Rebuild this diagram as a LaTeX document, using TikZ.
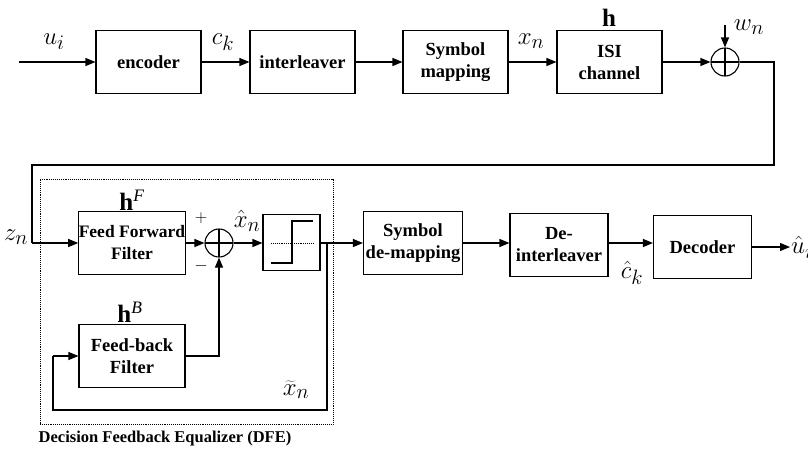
\documentclass[tikz,border=0pt]{standalone}
\usepackage{fontspec}
\setmainfont{Liberation Serif}
\usetikzlibrary{arrows.meta,calc}
\begin{document}
\begin{tikzpicture}[x=1pt,y=-1pt,
  blk/.style={draw,line width=1.1pt,minimum width=105pt,minimum height=63pt,inner sep=0pt,align=center,font=\fontsize{18.5}{22}\selectfont\bfseries},
  sumn/.style={draw,circle,line width=1.1pt,minimum size=28pt,inner sep=0pt,path picture={\draw[line width=1.1pt] (path picture bounding box.north) -- (path picture bounding box.south) (path picture bounding box.west) -- (path picture bounding box.east);}},
  arr/.style={line width=1.1pt,-{Triangle[length=10pt,width=8pt]}},
  ln/.style={line width=1.1pt},
  lab/.style={font=\fontsize{29}{33}\selectfont, inner sep=0pt},
  hlab/.style={font=\fontsize{25}{30}\selectfont\bfseries, inner sep=0pt},
]
\useasboundingbox (0,0) rectangle (808,453);
% top row
\coordinate (in) at (19,62);
\node[blk] (enc) at (148.5,62) {encoder};
\node[blk] (intl) at (302.5,62) {interleaver};
\node[blk] (sym) at (455.5,62) {Symbol\\mapping};
\node[blk] (isi) at (609.5,62) {ISI\\channel};
\node[sumn] (sum1) at (725,62) {};
\coordinate (w) at (725,25);
\coordinate (c1) at (774,62);
\coordinate (c2) at (774,165);
\coordinate (c3) at (32,165);
\coordinate (c4) at (32,243);
\draw[arr] (in) -- (enc);
\draw[arr] (enc) -- (intl);
\draw[arr] (intl) -- (sym);
\draw[arr] (sym) -- (isi);
\draw[arr] (isi) -- (sum1);
\draw[arr] (w) -- (sum1);
\draw[ln] (sum1.east) -- (c1) -- (c2) -- (c3) -- (c4);
\node[lab] (ui) at (54,42) {$u_i$};
\node[lab] (ck) at (223,42) {$c_k$};
\node[lab] (xn) at (531,41) {$x_n$};
\node[hlab] (h) at (609,18) {h};
\node[lab] (wn) at (749,27) {$w_n$};
% DFE
\node[draw,densely dotted,line width=0.9pt,minimum width=293pt,minimum height=245pt,inner sep=0pt] (dfe) at (186.5,301.5) {};
\node[font=\fontsize{16.5}{20}\selectfont\bfseries,anchor=north,inner sep=0pt] (cap) at (165,431) {Decision Feedback Equalizer (DFE)};
\node[blk,minimum width=106pt,font=\fontsize{17.5}{22}\selectfont\bfseries] (fff) at (132,243) {Feed Forward\\Filter};
\node[blk,minimum width=106pt] (fbf) at (132,356) {Feed-back\\Filter};
\node[sumn] (sum2) at (219,243) {};
\node[draw,line width=1.1pt,minimum width=57pt,minimum height=56pt,inner sep=0pt] (dec) at (291.5,242.5) {};
\draw[ln] (271,263) -- (292,263) -- (292,221) -- (313,221);
\draw[densely dotted,line width=0.9pt] (271,243) -- (313,243);
\draw[arr] (c4) -- (fff);
\draw[arr] (fff) -- (sum2);
\draw[arr] (sum2) -- (dec.west |- sum2);
\draw[arr] (fbf.east) -| (sum2.south);
\coordinate (br) at (327,243);
\coordinate (fb1) at (327,410);
\coordinate (fb2) at (53,410);
\coordinate (fb3) at (53,356);
\draw[ln] (br) -- (fb1) -- (fb2) -- (fb3);
\draw[arr] (fb3) -- (fbf.west);
\node[lab] (zn) at (16,237) {$z_n$};
\node[hlab] (hF) at (132,200) {h$^{\mathit{F}}$};
\node[hlab] (hB) at (130,312) {h$^{\mathit{B}}$};
\node[lab] (xh) at (247,221) {$\hat{x}_n$};
\node[font=\fontsize{16}{18}\selectfont] (pl) at (201,218) {$+$};
\node[font=\fontsize{16}{18}\selectfont] (mi) at (201,266) {$-$};
\node[lab] (xt) at (296,390) {$\widetilde{x}_n$};
% bottom row
\node[blk,minimum width=99pt] (demap) at (413,243) {Symbol\\de-mapping};
\node[blk,minimum width=98pt] (deint) at (559,245) {De-\\interleaver};
\node[blk,minimum width=98pt] (dcd) at (702.5,247) {Decoder};
\coordinate (out) at (790,247);
\draw[arr] (dec.east |- br) -- (demap.west |- br);
\draw[arr] (demap.east |- br) -- (deint.west |- br);
\draw[arr] (deint.east |- br) -- (dcd.west |- br);
\draw[arr] (dcd.east |- out) -- (out);
\node[lab] (ch) at (632,273) {$\hat{c}_k$};
\node[lab,anchor=west] (uh) at (791,247) {$\hat{u}_i$};
\end{tikzpicture}
\end{document}
